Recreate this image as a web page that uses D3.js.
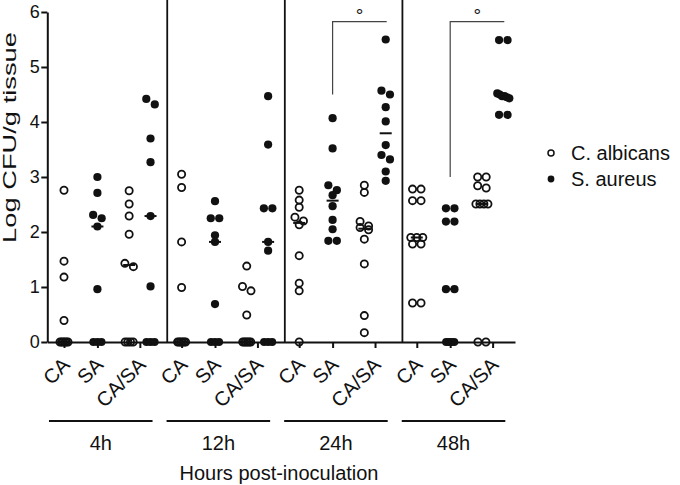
<!DOCTYPE html>
<html><head><meta charset="utf-8">
<script src="https://cdn.jsdelivr.net/npm/d3@7/dist/d3.min.js"></script>
<style>
html,body{margin:0;padding:0;background:#fff;}
svg{display:block;font-family:"Liberation Sans",Arial,Helvetica,sans-serif;}
</style></head>
<body>
<svg id="chart" width="680" height="485"></svg>
<script>
// ---- data ----
const groups = ["4h", "12h", "24h", "48h"];
const categories = ["CA", "SA", "CA/SA"];
const yTicks = [0, 1, 2, 3, 4, 5, 6];
const legendLabels = ["C. albicans", "S. aureus"];
const yTitle = "Log CFU/g tissue";
const xTitle = "Hours post-inoculation";
const sigMark = "°";
// C. albicans, mono-infection (CA column)
const caMono = [
  [2.76, 1.47, 1.18, 0.39, 0, 0, 0, 0, 0, 0],
  [3.05, 2.81, 1.82, 0.99, 0, 0, 0, 0, 0, 0],
  [2.76, 2.58, 2.45, 2.27, 2.20, 2.13, 1.57, 1.07, 0.93, 0],
  [2.78, 2.78, 2.57, 2.57, 1.90, 1.90, 1.90, 1.78, 1.78, 0.71, 0.71]
];
// S. aureus, mono-infection (SA column)
const saMono = [
  [3.00, 2.71, 2.31, 2.25, 2.10, 0.96, 0, 0, 0],
  [2.56, 2.25, 2.25, 1.94, 1.82, 0.69, 0, 0, 0],
  [4.07, 3.52, 2.85, 2.76, 2.67, 2.47, 2.22, 2.05, 1.84, 1.84],
  [2.43, 2.43, 2.19, 2.19, 0.96, 0.96, 0, 0, 0, 0]
];
// C. albicans in co-infection (CA/SA column, open)
const caCo = [
  [2.75, 2.51, 2.29, 1.96, 1.43, 1.37, 0, 0, 0, 0],
  [1.38, 1.01, 0.93, 0.49, 0, 0, 0, 0, 0, 0],
  [2.85, 2.72, 2.19, 2.11, 2.08, 2.04, 1.87, 1.42, 0.48, 0.17],
  [3.00, 3.00, 2.84, 2.80, 2.51, 2.51, 2.51, 2.51, 0, 0]
];
// S. aureus in co-infection (CA/SA column, filled)
const saCo = [
  [4.42, 4.32, 3.70, 3.27, 2.29, 1.01, 0, 0, 0],
  [4.47, 3.59, 2.43, 2.43, 1.82, 1.66, 0, 0, 0],
  [5.50, 4.57, 4.50, 4.27, 4.01, 3.58, 3.40, 3.32, 3.10, 2.93],
  [5.49, 5.49, 4.52, 4.50, 4.47, 4.47, 4.45, 4.43, 4.13, 4.13]
];
// significance brackets: [group index, y of left leg bottom]
const sigGroups = [2, 3];
const sigLegBottom = [4.5, 3.0];

// ---- layout ----
const svg = d3.select("#chart");
const stride = 3.52;
const catPos = [0, 1, 2.27];
const coOff = 0.32;
const x = d3.scaleLinear().domain([-0.5, 13.5]).range([47.3, 515]);
const y = d3.scaleLinear().domain([0, 6]).range([342, 12]);
const ink = "#111";

// separators
svg.append("g").selectAll("line").data(groups.slice(1)).join("line")
  .attr("x1", (d, i) => x((i + 1) * stride - 0.43)).attr("x2", (d, i) => x((i + 1) * stride - 0.43))
  .attr("y1", 0).attr("y2", y(0))
  .attr("stroke", ink).attr("stroke-width", 1.8);

// y axis
const yAxis = svg.append("g").attr("transform", `translate(${x(-0.5)},0)`)
  .call(d3.axisLeft(y).tickValues(yTicks).tickFormat(d3.format("d")).tickSize(6).tickSizeOuter(0).tickPadding(1.5));
yAxis.select(".domain").attr("stroke", ink).attr("stroke-width", 2);
yAxis.selectAll(".tick line").attr("stroke", ink).attr("stroke-width", 2);
yAxis.selectAll(".tick text").attr("font-size", 18).attr("fill", ink).attr("font-family", null);

// x axis (categorical ticks)
const tickData = [];
groups.forEach((g, gi) => categories.forEach((c, ci) => tickData.push({pos: gi * stride + catPos[ci], label: c})));
const xAxis = svg.append("g").attr("transform", `translate(0,${y(0)})`)
  .call(d3.axisBottom(x).tickValues(tickData.map(d => d.pos))
    .tickFormat((d, i) => tickData[i].label).tickSize(6).tickSizeOuter(0));
xAxis.select(".domain").attr("stroke", ink).attr("stroke-width", 2);
xAxis.selectAll(".tick line").attr("stroke", ink).attr("stroke-width", 2);
xAxis.selectAll(".tick text")
  .attr("font-size", 20).attr("fill", ink).attr("font-family", null)
  .attr("text-anchor", "end").attr("x", -3.5).attr("y", 14).attr("dy", "0.71em")
  .attr("transform", "rotate(-45,-3.5,14)");

// scatter layout: rows of near-equal values are centred and compressed
function layout(values, center) {
  const sorted = values.slice().sort((a, b) => b - a);
  const rows = [];
  sorted.forEach(v => {
    const r = rows[rows.length - 1];
    if (r && Math.abs(r[0] - v) < 0.1) r.push(v); else rows.push([v]);
  });
  const pts = [];
  rows.forEach(r => {
    const k = r.length;
    const maxW = r[0] === 0 ? 8 : 12;
    const sp = k > 1 ? Math.min(8.5, maxW / (k - 1)) : 0;
    r.forEach((v, i) => pts.push({cx: center + (i - (k - 1) / 2) * sp, cy: y(v)}));
  });
  return pts;
}

const columns = [];
groups.forEach((g, gi) => {
  const b = gi * stride;
  columns.push({vals: caMono[gi], pos: b + catPos[0], open: true});
  columns.push({vals: saMono[gi], pos: b + catPos[1], open: false});
  columns.push({vals: caCo[gi], pos: b + catPos[2] - coOff, open: true});
  columns.push({vals: saCo[gi], pos: b + catPos[2] + coOff, open: false});
});

const marks = svg.append("g");
columns.forEach(col => {
  const cx = x(col.pos);
  const pts = layout(col.vals, cx);
  marks.append("g").selectAll("circle").data(pts).join("circle")
    .attr("cx", d => d.cx).attr("cy", d => d.cy)
    .attr("r", col.open ? 3.6 : 4.1)
    .attr("fill", col.open ? "none" : ink)
    .attr("stroke", col.open ? ink : "none")
    .attr("stroke-width", 1.8);
  const med = d3.median(col.vals);
  marks.append("line")
    .attr("x1", cx - 6).attr("x2", cx + 6)
    .attr("y1", y(med)).attr("y2", y(med))
    .attr("stroke", ink).attr("stroke-width", 2);
});

// significance brackets
sigGroups.forEach((gi, i) => {
  const xl = x(gi * stride + catPos[1]);
  const xr = x(gi * stride + catPos[2] + coOff) + 1;
  const yt = 21.7;
  svg.append("path")
    .attr("d", `M${xl},${y(sigLegBottom[i])}V${yt}H${xr}`)
    .attr("fill", "none").attr("stroke", "#444").attr("stroke-width", 1.2);
  svg.append("text").attr("x", (xl + xr) / 2).attr("y", 22)
    .attr("text-anchor", "middle").attr("font-size", 19).attr("fill", ink).text(sigMark);
});

// group lines & labels
const gl = svg.append("g");
groups.forEach((g, gi) => {
  const x1 = x(gi * stride - 0.45), x2 = x(gi * stride + 2.65);
  gl.append("line").attr("x1", x1).attr("x2", x2).attr("y1", 421).attr("y2", 421)
    .attr("stroke", ink).attr("stroke-width", 2);
  gl.append("text").attr("x", (x1 + x2) / 2).attr("y", 450)
    .attr("text-anchor", "middle").attr("font-size", 20).attr("fill", ink).text(g);
});

// axis titles
svg.append("text").attr("x", 279).attr("y", 480).attr("text-anchor", "middle")
  .attr("font-size", 20).attr("fill", ink).text(xTitle);
svg.append("text").attr("transform", "translate(15.5,137.5) rotate(-90)")
  .attr("text-anchor", "middle").attr("font-size", 18).attr("fill", ink)
  .attr("textLength", 211).attr("lengthAdjust", "spacingAndGlyphs").text(yTitle);

// legend
const lg = svg.append("g");
legendLabels.forEach((t, i) => {
  const cy = 153 + i * 26;
  lg.append("circle").attr("cx", 551).attr("cy", cy).attr("r", i === 0 ? 3 : 3.4)
    .attr("fill", i === 0 ? "none" : ink).attr("stroke", i === 0 ? ink : "none").attr("stroke-width", 1.5);
  lg.append("text").attr("x", 571).attr("y", cy + 7).attr("font-size", 20).attr("fill", ink).text(t);
});
</script>
</body></html>
